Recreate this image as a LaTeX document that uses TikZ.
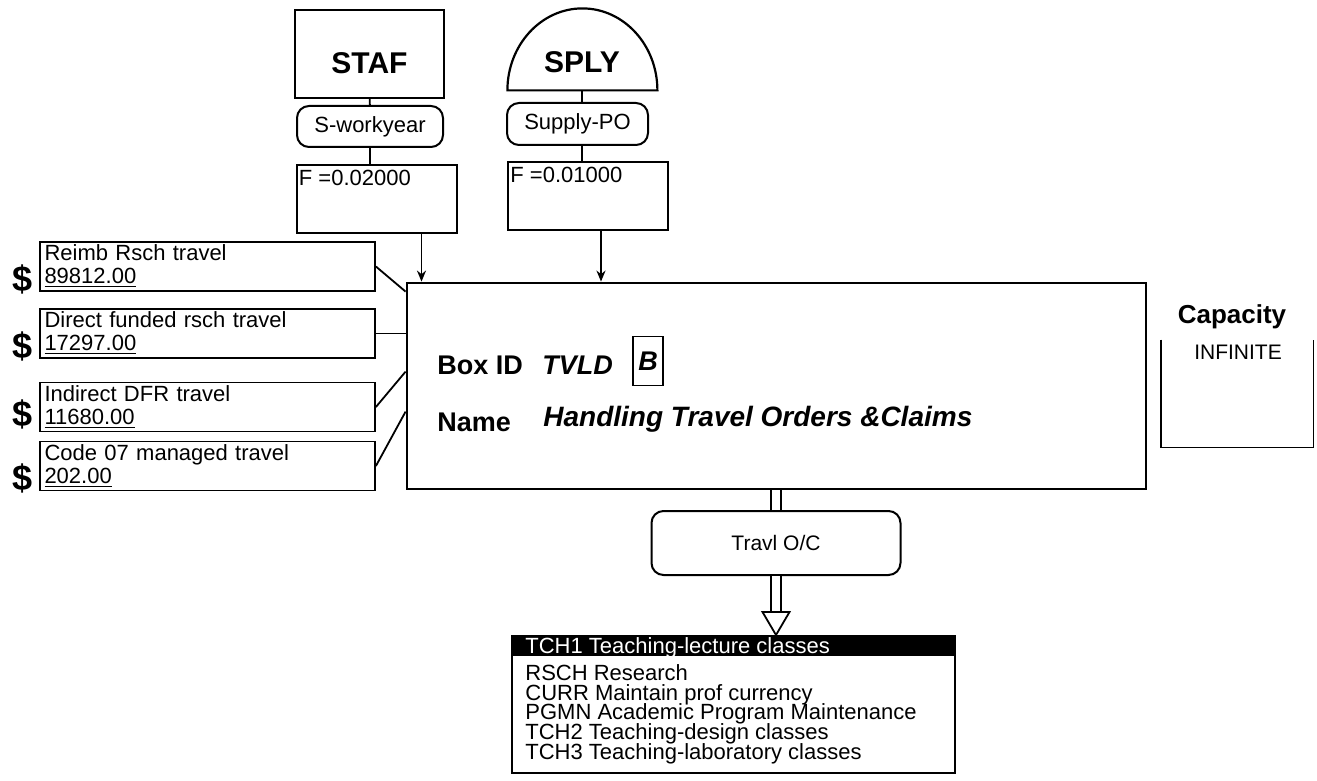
\documentclass[tikz,border=0pt]{standalone}
\usepackage{fontspec}
\setmainfont{Liberation Sans}
\usepackage{tikz}
\usetikzlibrary{arrows,arrows.meta,shapes,calc}
\newcommand{\listfont}{\fontsize{11}{9.9}\selectfont\lineskiplimit=-20pt\relax}
\tikzstyle{edge}=[line width=0.9pt]
\tikzstyle{edgeArrow}=[line width=0.9pt, -{Stealth[length=5.5pt, width=4.5pt]}]
\tikzstyle{edgeDouble}=[double, double distance=4pt, line width=0.8pt]
\tikzstyle{srcBox}=[rectangle, draw, line width=1.1pt, minimum width=74.5pt, minimum height=44pt, inner sep=0pt]
\tikzstyle{flowR}=[rectangle, draw, rounded corners=6pt, line width=1pt, inner sep=0pt, font=\fontsize{11}{13}\selectfont]
\tikzstyle{factorBox}=[rectangle, draw, line width=1pt, minimum width=80pt, minimum height=34pt, inner sep=0pt]
\tikzstyle{costBox}=[rectangle, draw, line width=0.9pt, minimum width=167.5pt, minimum height=24.5pt, text width=163pt, align=left, inner sep=1pt, font=\fontsize{11}{11.5}\selectfont]
\tikzstyle{dollar}=[inner sep=0pt, font=\fontsize{18}{18}\selectfont\bfseries]
\tikzstyle{boxText}=[anchor=west, inner sep=0pt, font=\fontsize{13.5}{15}\selectfont\bfseries]
\tikzstyle{listText}=[inner sep=0pt, align=left, font=\listfont]

\begin{document}
\begin{tikzpicture}[x=0.5pt, y=-0.5pt]
      \useasboundingbox (0,0) rectangle (1317,781);
      \node(staf) [srcBox, label={[yshift=-4.5pt, font=\fontsize{15}{17}\selectfont\bfseries]center:STAF}] at (369.5,54){};
      \node(sply) [minimum width=75pt, minimum height=41pt, inner sep=0pt, label={[yshift=-6.5pt, font=\fontsize{15}{17}\selectfont\bfseries]center:SPLY}] at (582,49){};
      \draw[line width=1.1pt] (sply.south east) arc[start angle=0, end angle=180, x radius=37.5pt, y radius=41pt] -- cycle;
      \node(swork) [flowR, minimum width=73pt, minimum height=20.5pt] at (370,126.5){S-workyear};
      \node(supo) [flowR, minimum width=70.5pt, minimum height=21pt] at (577.5,124){Supply-PO};
      \node(fstaf) [factorBox, label={[anchor=north west, inner xsep=1.5pt, inner ysep=3pt, font=\fontsize{11}{13}\selectfont]north west:F =0.02000}] at (376.5,198.5){};
      \node(fsply) [factorBox, label={[anchor=north west, inner xsep=1.5pt, inner ysep=3pt, font=\fontsize{11}{13}\selectfont]north west:F =0.01000}] at (588,196){};

      \node(main) [rectangle, draw, line width=1.4pt, minimum width=369.5pt, minimum height=103pt] at (776.5,386){};
      \node(boxid) [boxText] at (437,365){Box ID};
      \node(tvld) [boxText, font=\fontsize{13.5}{15}\selectfont\bfseries\itshape] at (542,365){TVLD};
      \node(tag) [rectangle, draw, line width=0.9pt, minimum width=15pt, minimum height=24.5pt, inner sep=0pt, font=\fontsize{13.5}{15}\selectfont\bfseries\itshape] at (648,361){B};
      \node(namelbl) [boxText] at (437,422){Name};
      \node(name) [boxText, font=\fontsize{14}{16}\selectfont\bfseries\itshape] at (543,419){Handling Travel Orders \&Claims};

      \node(cost1) [costBox] at (207.5,266.5){Reimb Rsch travel\\\underline{89812.00}};
      \node(cost2) [costBox] at (207.5,333.5){Direct funded rsch travel\\\underline{17297.00}};
      \node(cost3) [costBox] at (207.5,407){Indirect DFR travel\\\underline{11680.00}};
      \node(cost4) [costBox] at (207.5,466){Code 07 managed travel\\\underline{202.00}};
      \node(usd1) [dollar] at (23,279){\$};
      \node(usd2) [dollar] at (23,346){\$};
      \node(usd3) [dollar] at (23,414){\$};
      \node(usd4) [dollar] at (23,478){\$};

      \node(cap) [font=\fontsize{13}{15}\selectfont\bfseries] at (1232,317){Capacity};
      \node(capbox) [minimum width=76pt, minimum height=53.5pt, inner sep=0pt] at (1237,393.5){};
      \node(inf) [font=\fontsize{10.5}{12}\selectfont] at (1238,352){INFINITE};

      \node(travl) [flowR, minimum width=124.5pt, minimum height=32pt, font=\fontsize{10.5}{12}\selectfont] at (776,543){Travl O/C};
      \node(list) [rectangle, draw, line width=1pt, minimum width=221.5pt, minimum height=68.5pt, inner sep=0pt] at (733.5,704.5){};
      \fill (list.north west) rectangle ([yshift=-10.5pt]list.north east);
      \node(head) [listText, anchor=west, text=white] at (525,648){TCH1 Teaching-lecture classes};
      \node(acts) [listText, anchor=north west] at (525,664){RSCH Research\\CURR Maintain prof currency\\PGMN Academic Program Maintenance\\TCH2 Teaching-design classes\\TCH3 Teaching-laboratory classes};

      \draw[edge] (staf) to (swork);
      \draw[edge] (swork.south) to (swork.south |- fstaf.north);
      \draw[edge] (sply.south) to (sply.south |- supo.north);
      \draw[edge] (sply.south |- supo.south) to (sply.south |- fsply.north);
      \coordinate(fs1) at ([xshift=-18pt]fstaf.south east);
      \coordinate(fs2) at ([xshift=-34pt]fsply.south east);
      \draw[edgeArrow] (fs1) to (fs1 |- main.north);
      \draw[edgeArrow] (fs2) to (fs2 |- main.north);
      \draw[edge] (cost1.east) to ([yshift=-5pt]main.north west);
      \draw[edge] (cost2.east) to (cost2.east -| main.west);
      \draw[edge] (cost3.east) to ([yshift=-45pt]main.north west);
      \draw[edge] (cost4.east) to ([yshift=-65pt]main.north west);
      \draw[edge] (capbox.north west) -- (capbox.south west) -- (capbox.south east) -- (capbox.north east);
      \draw[edgeDouble] (travl.north) to (travl.north |- main.south);
      \coordinate(tip) at (travl.south |- list.north);
      \draw[edgeDouble] (travl.south) to ([yshift=11.5pt]tip);
      \draw[edge, fill=white] (tip) -- ++(-6.75pt,11.5pt) -- ++(13.5pt,0pt) -- cycle;
    \end{tikzpicture}
\end{document}
